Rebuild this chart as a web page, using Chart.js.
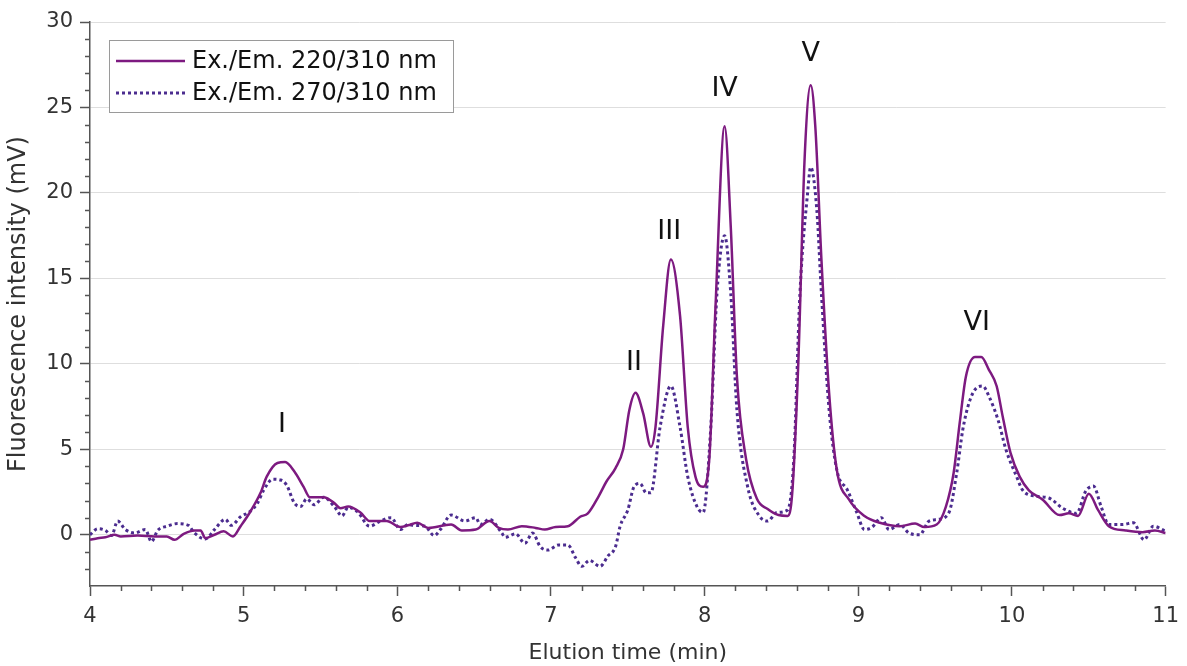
<!DOCTYPE html>
<html>
<head>
<meta charset="utf-8">
<script src="https://cdn.jsdelivr.net/npm/chart.js@4.4.1/dist/chart.umd.min.js"></script>
<style>
  html, body { margin: 0; padding: 0; background: #fff; }
</style>
</head>
<body>
<canvas id="chromChart" width="1187" height="666"></canvas>
<script>
// Ex./Em. 220/310 nm trace (solid)
const solidTime = [4.00, 4.05, 4.10, 4.16, 4.20, 4.31, 4.42, 4.50, 4.55, 4.61, 4.68, 4.72, 4.75, 4.81, 4.87, 4.93, 4.98,
  5.04, 5.11, 5.15, 5.22, 5.27, 5.33, 5.39, 5.43, 5.52, 5.59, 5.63, 5.68, 5.76, 5.82, 5.93, 6.02, 6.07, 6.13, 6.20,
  6.35, 6.42, 6.51, 6.60, 6.66, 6.72, 6.81, 6.90, 6.96, 7.03, 7.11, 7.19, 7.24, 7.31, 7.36, 7.42, 7.47, 7.51, 7.55,
  7.60, 7.65, 7.68, 7.73, 7.78, 7.84, 7.89, 7.94, 7.99, 8.03, 8.07, 8.13, 8.17, 8.21, 8.27, 8.34, 8.41, 8.48, 8.54,
  8.57, 8.61, 8.65, 8.69, 8.72, 8.76, 8.81, 8.86, 8.94, 9.04, 9.14, 9.27, 9.37, 9.43, 9.51, 9.57, 9.62, 9.66, 9.70,
  9.76, 9.80, 9.85, 9.90, 9.94, 9.99, 10.05, 10.11, 10.20, 10.31, 10.37, 10.43, 10.50, 10.56, 10.63, 10.74, 10.85,
  10.93, 11.00];
const solidSignal = [-0.3, -0.2, -0.15, 0.0, -0.1, -0.05, -0.1, -0.1, -0.3, 0.05, 0.25, 0.25, -0.2, 0.0, 0.2, -0.1, 0.5,
  1.3, 2.45, 3.4, 4.2, 4.25, 3.7, 2.8, 2.2, 2.2, 1.85, 1.55, 1.65, 1.3, 0.8, 0.8, 0.45, 0.55, 0.7, 0.4,
  0.6, 0.25, 0.3, 0.8, 0.4, 0.3, 0.5, 0.4, 0.3, 0.45, 0.5, 1.05, 1.25, 2.25, 3.1, 3.9, 5.0, 7.3, 8.3,
  7.1, 5.15, 6.3, 12.2, 16.1, 12.8, 6.3, 3.4, 2.8, 4.4, 13.2, 23.9, 18.0, 9.25, 4.4, 2.1, 1.5, 1.15, 1.1,
  2.45, 10.2, 21.9, 26.3, 23.9, 16.1, 8.3, 3.8, 2.05, 1.1, 0.7, 0.5, 0.65, 0.45, 0.6, 1.65, 3.6, 6.55, 9.25,
  10.4, 10.4, 9.65, 8.7, 6.9, 4.8, 3.4, 2.6, 2.05, 1.15, 1.25, 1.1, 2.4, 1.45, 0.5, 0.25, 0.15,
  0.25, 0.1];

// Ex./Em. 270/310 nm trace (dotted)
const dottedTime = [4.00, 4.05, 4.10, 4.14, 4.18, 4.23, 4.29, 4.36, 4.40, 4.44, 4.50, 4.57, 4.64, 4.68, 4.75, 4.81, 4.88,
  4.92, 4.98, 5.04, 5.09, 5.13, 5.19, 5.24, 5.28, 5.33, 5.37, 5.41, 5.46, 5.52, 5.59, 5.64, 5.68, 5.74, 5.82, 5.89,
  5.96, 6.02, 6.07, 6.11, 6.18, 6.24, 6.28, 6.35, 6.44, 6.51, 6.54, 6.60, 6.68, 6.70, 6.77, 6.83, 6.88, 6.93, 6.98,
  7.05, 7.11, 7.16, 7.20, 7.25, 7.32, 7.37, 7.42, 7.45, 7.50, 7.54, 7.58, 7.62, 7.65, 7.71, 7.78, 7.84, 7.89, 7.95,
  7.99, 8.04, 8.08, 8.13, 8.17, 8.21, 8.28, 8.36, 8.41, 8.47, 8.54, 8.58, 8.62, 8.67, 8.69, 8.73, 8.76, 8.81, 8.86,
  8.93, 8.99, 9.04, 9.09, 9.15, 9.20, 9.27, 9.33, 9.40, 9.46, 9.52, 9.59, 9.64, 9.68, 9.72, 9.77, 9.81, 9.85, 9.91,
  9.96, 10.03, 10.07, 10.16, 10.24, 10.33, 10.42, 10.48, 10.53, 10.58, 10.63, 10.72, 10.79, 10.86, 10.92, 11.00];
const dottedSignal = [0.0, 0.35, 0.25, -0.05, 0.8, 0.3, 0.1, 0.3, -0.4, 0.25, 0.5, 0.65, 0.55, 0.1, -0.25, 0.3, 0.9,
  0.55, 1.05, 1.35, 1.85, 2.6, 3.25, 3.2, 2.9, 1.85, 1.65, 2.1, 1.75, 2.2, 1.65, 1.1, 1.6, 1.35, 0.5, 0.8,
  1.0, 0.3, 0.6, 0.55, 0.5, -0.05, 0.3, 1.15, 0.8, 1.0, 0.6, 0.9, 0.1, -0.15, 0.05, -0.5, 0.1, -0.7, -0.9,
  -0.6, -0.6, -1.35, -1.85, -1.5, -1.85, -1.25, -0.7, 0.5, 1.45, 2.8, 3.0, 2.45, 2.45, 6.3, 8.7, 6.3, 3.4, 1.65,
  1.3, 6.3, 14.1, 17.5, 14.1, 7.3, 2.8, 1.05, 0.8, 1.3, 1.45, 4.4, 14.1, 20.0, 21.5, 19.0, 14.1, 7.3, 3.8,
  2.6, 1.3, 0.3, 0.45, 1.0, 0.3, 0.6, 0.1, 0.0, 0.8, 0.9, 1.3, 3.6, 6.15, 7.7, 8.6, 8.7, 8.1, 6.7,
  5.0, 3.4, 2.6, 2.25, 2.15, 1.55, 1.25, 2.55, 2.85, 1.65, 0.6, 0.6, 0.7, -0.3, 0.5, 0.2];

const seriesNames = ['Ex./Em. 220/310 nm', 'Ex./Em. 270/310 nm'];
const yTickValues = [0, 5, 10, 15, 20, 25, 30];

// peak annotations (label centre in data units)
const peakNames = ['I', 'II', 'III', 'IV', 'V', 'VI'];
const peakTime = [5.25, 7.54, 7.77, 8.13, 8.69, 9.77];
const peakLabelY = [6.4, 10.05, 17.7, 26.1, 28.1, 12.4];

const FONT = "'DejaVu Sans', 'Noto Sans', sans-serif";
const AXIS_COLOR = '#555';

function toPoints(xs, ys) {
  return xs.map((x, i) => ({ x: x, y: ys[i] }));
}

const minorTicks = {
  id: 'minorTicks',
  afterDraw(chart) {
    const { ctx, scales: { x, y } } = chart;
    ctx.save();
    ctx.strokeStyle = AXIS_COLOR;
    ctx.lineWidth = 1.5;
    ctx.beginPath();
    for (let i = 0; i <= 35; i++) {
      if (i % 5 === 0) continue;
      const px = Math.round(x.getPixelForValue(4 + i * 0.2)) + 0.5;
      ctx.moveTo(px, x.top);
      ctx.lineTo(px, x.top + 5);
    }
    for (let v = -2; v < 30; v++) {
      if (v % 5 === 0) continue;
      const py = Math.round(y.getPixelForValue(v)) + 0.5;
      ctx.moveTo(y.right, py);
      ctx.lineTo(y.right - 5, py);
    }
    ctx.stroke();
    ctx.restore();
  }
};

const boxLegend = {
  id: 'boxLegend',
  afterDraw(chart) {
    const { ctx, chartArea } = chart;
    const left = chartArea.left + 19, top = chartArea.top + 18;
    const w = 344, h = 72;
    ctx.save();
    ctx.fillStyle = '#fff';
    ctx.fillRect(left, top, w, h);
    ctx.strokeStyle = '#9a9a9a';
    ctx.lineWidth = 1;
    ctx.strokeRect(left + 0.5, top + 0.5, w, h);
    chart.data.datasets.forEach((ds, i) => {
      const cy = top + 21 + i * 32;
      ctx.beginPath();
      ctx.strokeStyle = ds.borderColor;
      ctx.lineWidth = ds.borderWidth;
      ctx.setLineDash(ds.borderDash || []);
      ctx.moveTo(left + 7, cy);
      ctx.lineTo(left + 76, cy);
      ctx.stroke();
      ctx.setLineDash([]);
      ctx.fillStyle = '#111';
      ctx.font = '24px ' + FONT;
      ctx.textAlign = 'left';
      ctx.textBaseline = 'middle';
      ctx.fillText(ds.label, left + 83, cy + 1);
    });
    ctx.restore();
  }
};

const peakLabels = {
  id: 'peakLabels',
  afterDatasetsDraw(chart) {
    const { ctx, scales: { x, y } } = chart;
    ctx.save();
    ctx.fillStyle = '#111';
    ctx.font = '27px ' + FONT;
    ctx.textAlign = 'center';
    ctx.textBaseline = 'middle';
    peakNames.forEach((name, i) => {
      ctx.fillText(name, x.getPixelForValue(peakTime[i]), y.getPixelForValue(peakLabelY[i]));
    });
    ctx.restore();
  }
};

const ctx = document.getElementById('chromChart').getContext('2d');
const chart = new Chart(ctx, {
  type: 'line',
  data: {
    datasets: [{
      label: seriesNames[0],
      data: toPoints(solidTime, solidSignal),
      borderColor: '#7d1a80',
      borderWidth: 2.5,
      pointRadius: 0,
      cubicInterpolationMode: 'monotone',
      fill: false
    }, {
      label: seriesNames[1],
      data: toPoints(dottedTime, dottedSignal),
      borderColor: '#4b2c8f',
      borderWidth: 3,
      borderDash: [3, 3],
      borderCapStyle: 'butt',
      pointRadius: 0,
      cubicInterpolationMode: 'monotone',
      fill: false
    }]
  },
  options: {
    responsive: false,
    animation: false,
    layout: { padding: { top: 22, right: 17, bottom: 0, left: 0 } },
    plugins: {
      legend: { display: false },
      tooltip: { enabled: false }
    },
    scales: {
      x: {
        type: 'linear',
        min: 4,
        max: 11,
        ticks: { stepSize: 1, color: '#333', padding: 8, font: { family: FONT, size: 21 } },
        grid: { drawOnChartArea: false, drawTicks: true, tickLength: 10, tickColor: AXIS_COLOR, tickWidth: 1.5 },
        border: { color: AXIS_COLOR, width: 1.5 },
        title: { display: true, text: 'Elution time (min)', color: '#333', font: { family: FONT, size: 22 }, padding: { top: 0, bottom: 0 } },
        afterFit(scale) { scale.height = 80; }
      },
      y: {
        type: 'linear',
        min: -3,
        max: 30,
        afterBuildTicks(scale) { scale.ticks = yTickValues.map(v => ({ value: v })); },
        ticks: { color: '#333', padding: 7, font: { family: FONT, size: 21 } },
        grid: { color: '#dedede', lineWidth: 1, tickLength: 10, tickColor: AXIS_COLOR, tickWidth: 1.5 },
        border: { color: AXIS_COLOR, width: 1.5 },
        title: { display: true, text: 'Fluorescence intensity (mV)', color: '#333', font: { family: FONT, size: 24 }, padding: { top: 4, bottom: 0 } },
        afterFit(scale) { scale.width = 90; }
      }
    }
  },
  plugins: [minorTicks, peakLabels, boxLegend]
});
</script>
</body>
</html>
